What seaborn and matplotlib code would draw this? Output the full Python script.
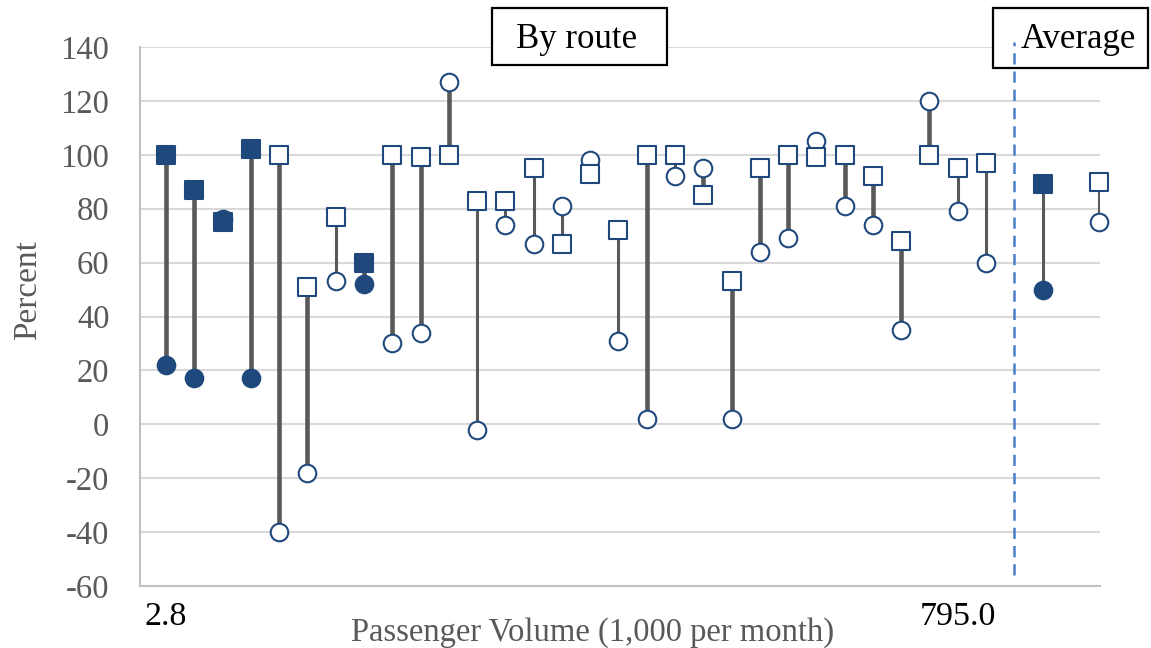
import numpy as np
import pandas as pd
import matplotlib
matplotlib.use("Agg")
import matplotlib.pyplot as plt
from matplotlib.patches import Rectangle
import seaborn as sns

# route values (square = upper marker series, circle = lower marker series)
square_vals = [100, 87, 75, 102, 100, 51, 77, 60, 100, 99,
               100, 83, 83, 95, 67, 93, 72, 100, 100, 85,
               53, 95, 100, 99, 100, 92, 68, 100, 95, 97]
circle_vals = [22, 17, 76, 17, -40, -18, 53, 52, 30, 34,
               127, -2, 74, 67, 81, 98, 31, 2, 92, 95,
               2, 64, 69, 105, 81, 74, 35, 120, 79, 60]
filled = [True, True, True, True, False, False, False, True, False, False,
          False, False, False, False, False, False, False, False, False, False,
          False, False, False, False, False, False, False, False, False, False]
thick = [True, True, True, True, True, True, False, True, True, True,
         True, False, False, False, False, False, False, True, False, True,
         True, True, True, False, True, True, True, True, False, False]

avg_square = [89, 90]
avg_circle = [50, 75]
avg_filled = [True, False]

tick_labels = ["2.8", "795.0"]

navy = "#1F497D"
line_gray = "#595959"
text_gray = "#595959"

n = len(square_vals)
df = pd.DataFrame({
    "pos": np.arange(n),
    "square": square_vals,
    "circle": circle_vals,
    "filled": filled,
    "thick": thick,
})
avg_df = pd.DataFrame({
    "pos": [n + 1, n + 3],
    "square": avg_square,
    "circle": avg_circle,
    "filled": avg_filled,
    "thick": [False, False],
})
all_df = pd.concat([df, avg_df], ignore_index=True)

sns.set_style("white")
plt.rcParams["font.family"] = ["Liberation Serif", "DejaVu Serif"]
plt.rcParams["axes.unicode_minus"] = False

fig = plt.figure(figsize=(11.51, 6.48), dpi=100)
ax = fig.add_axes([140 / 1151, 1 - 586 / 648, 960 / 1151, 539 / 648])

# connector lines
for is_thick, lw in [(True, 3.3), (False, 2.2)]:
    sub = all_df[all_df["thick"] == is_thick]
    ax.vlines(sub["pos"], sub["circle"], sub["square"], color=line_gray,
              linewidth=lw, zorder=2)

msize = 160
for series, marker in [("circle", "o"), ("square", "s")]:
    fill = all_df[all_df["filled"]]
    empty = all_df[~all_df["filled"]]
    sns.scatterplot(data=fill, x="pos", y=series, marker=marker, s=msize,
                    color=navy, edgecolor=navy, linewidth=1.5, ax=ax, zorder=3,
                    clip_on=False)
    sns.scatterplot(data=empty, x="pos", y=series, marker=marker, s=msize,
                    color="white", edgecolor=navy, linewidth=1.5, ax=ax, zorder=3,
                    clip_on=False)

# separator between routes and average
ax.plot([n, n], [-56, 142], color="#4A7EC7", linestyle=(0, (4.5, 2.8)),
        linewidth=1.8, clip_on=False, zorder=4)

ax.set_xlim(-0.92, n + 3.03)
ax.set_ylim(-60, 140)
ax.set_yticks(np.arange(-60, 141, 20))
ax.yaxis.grid(True, color="#D9D9D9", linewidth=1.5)
ax.set_axisbelow(True)
ax.set_xticks([0, n - 2])
ax.set_xticklabels(tick_labels, fontsize=24.5, color="black")
ax.tick_params(axis="x", length=0, pad=11)
ax.tick_params(axis="y", length=0, pad=22, labelsize=23.5, labelcolor=text_gray)

for side in ["top", "right"]:
    ax.spines[side].set_visible(False)
for side in ["left", "bottom"]:
    ax.spines[side].set_color("#BFBFBF")
    ax.spines[side].set_linewidth(1.5)

ax.set_xlabel("Passenger Volume (1,000 per month)", fontsize=23.5, color=text_gray)
ax.xaxis.set_label_coords(0.471, -0.058)
ax.set_ylabel("Percent", fontsize=24, color=text_gray)
ax.yaxis.set_label_coords(-0.101, 0.549)

# label boxes (in figure pixels / size)
for (x0, y0, x1, y1), label, tx in [((492, 8, 667, 65), "By route", 577),
                                    ((993, 8, 1148, 68), "Average", 1078)]:
    ax.add_patch(Rectangle((x0 / 1151, 1 - y1 / 648), (x1 - x0) / 1151, (y1 - y0) / 648,
                           transform=fig.transFigure, facecolor="white",
                           edgecolor="black", linewidth=1.6, clip_on=False, zorder=2.5))
    ax.text(tx / 1151, 1 - 40 / 648, label, transform=fig.transFigure, fontsize=25,
            ha="center", va="center", color="black", zorder=5, clip_on=False)

fig.savefig("out.png", dpi=100)
